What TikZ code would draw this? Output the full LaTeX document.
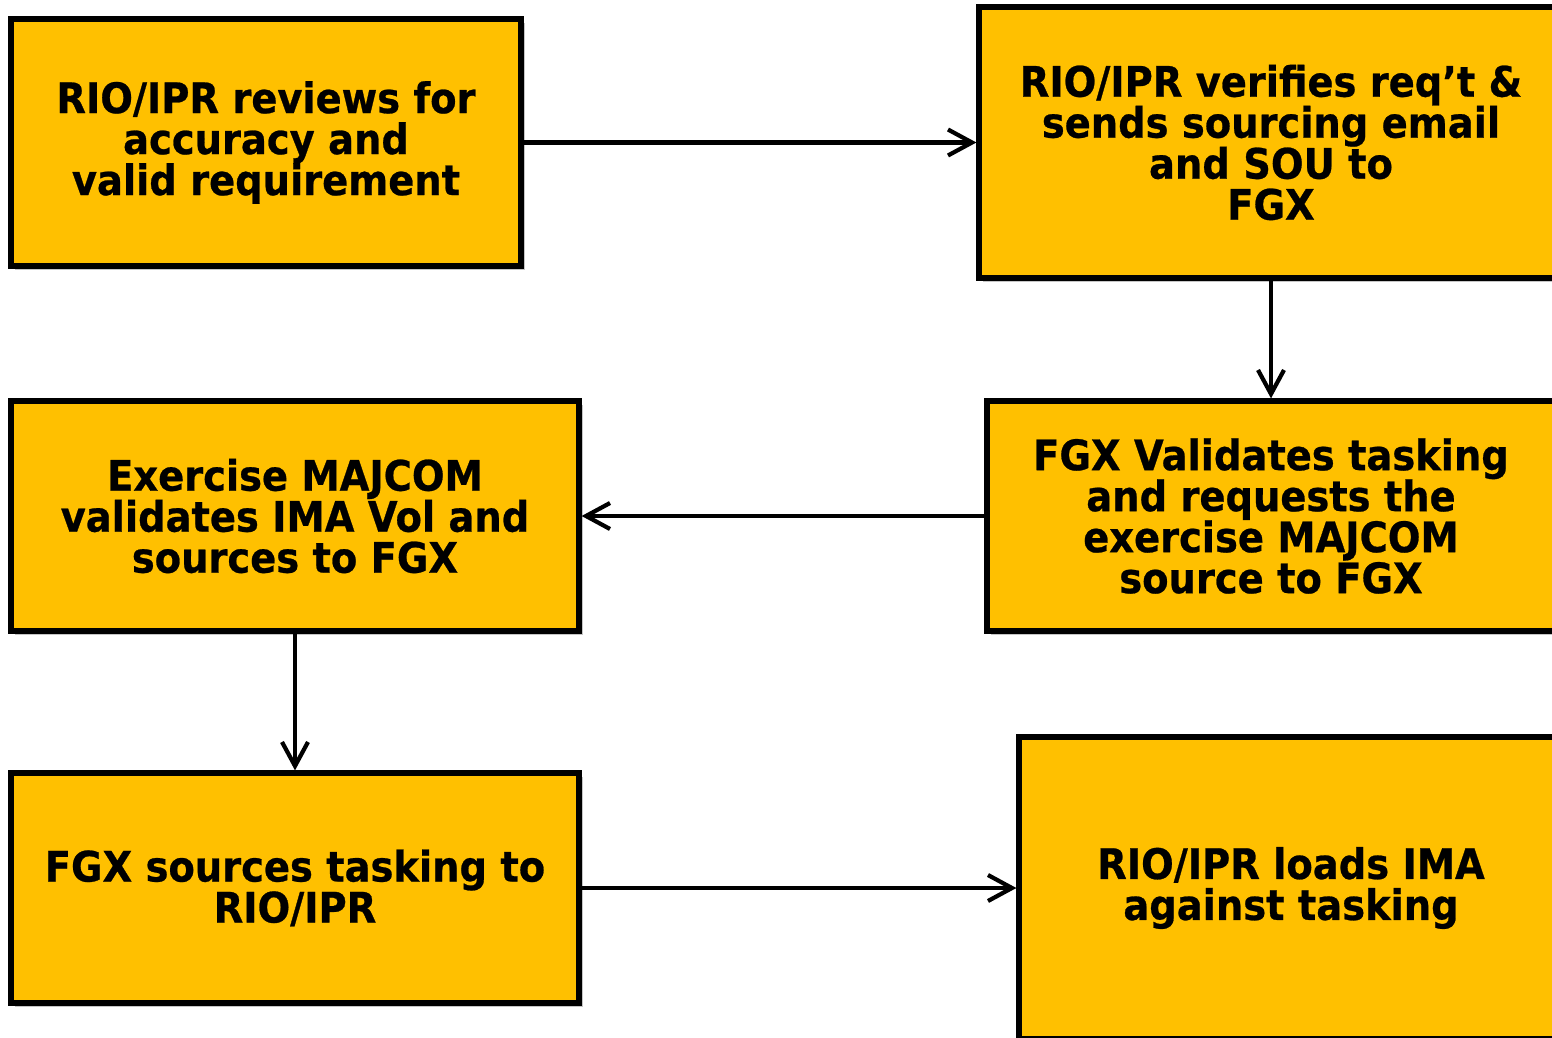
\documentclass[tikz,border=0pt]{standalone}
\usepackage{fontspec}
\setmainfont{DejaVu Sans}
\newfontfamily\taskfont{DejaVu Sans Bold}[FakeStretch=0.915,FakeBold=0.6]
\usepackage{tikz}
\usetikzlibrary{arrows.meta,positioning,shadows}
\definecolor{taskyellow}{HTML}{FFC000}

\begin{document}
\begin{tikzpicture}[x=0.5pt,y=-0.5pt,->,>={Straight Barb[length=12pt,width=13pt]},line width=2.1pt,task/.style={draw=black,line width=2.6pt,fill=taskyellow,rectangle,align=center,inner sep=0pt,font=\taskfont\fontsize{21}{20.5}\selectfont,drop shadow={shadow xshift=2pt,shadow yshift=-2pt,fill=black!45,opacity=0.5}}]
	\useasboundingbox (0,0) rectangle (1552,1038);

	\node[task,minimum width=255pt,minimum height=123.5pt]	(review)	at (266,142.5)	{RIO/IPR reviews for\\accuracy and\\valid requirement};
	\node[task,minimum width=292pt,minimum height=135.5pt]	(verify)	at (1271,142.5)	{RIO/IPR verifies req’t \&\\sends sourcing email\\and SOU to\\FGX};
	\node[task,minimum width=284pt,minimum height=115pt]	(validate)	at (1271,516)	{FGX Validates tasking\\and requests the\\exercise MAJCOM\\source to FGX};
	\node[task,minimum width=284pt,minimum height=115pt]	(majcom)	at (295,516)	{Exercise MAJCOM\\validates IMA Vol and\\sources to FGX};
	\node[task,minimum width=284pt,minimum height=115pt]	(sources)	at (295,888)	{FGX sources tasking to\\RIO/IPR};
	\node[task,minimum width=272pt,minimum height=151pt]	(load)		at (1291,888)	{RIO/IPR loads IMA\\against tasking};

	\path
		(review)	edge	(verify)
		(verify)	edge	(validate)
		(validate)	edge	(majcom)
		(majcom)	edge	(sources)
		(sources)	edge	(load)
	;
\end{tikzpicture}
\end{document}
